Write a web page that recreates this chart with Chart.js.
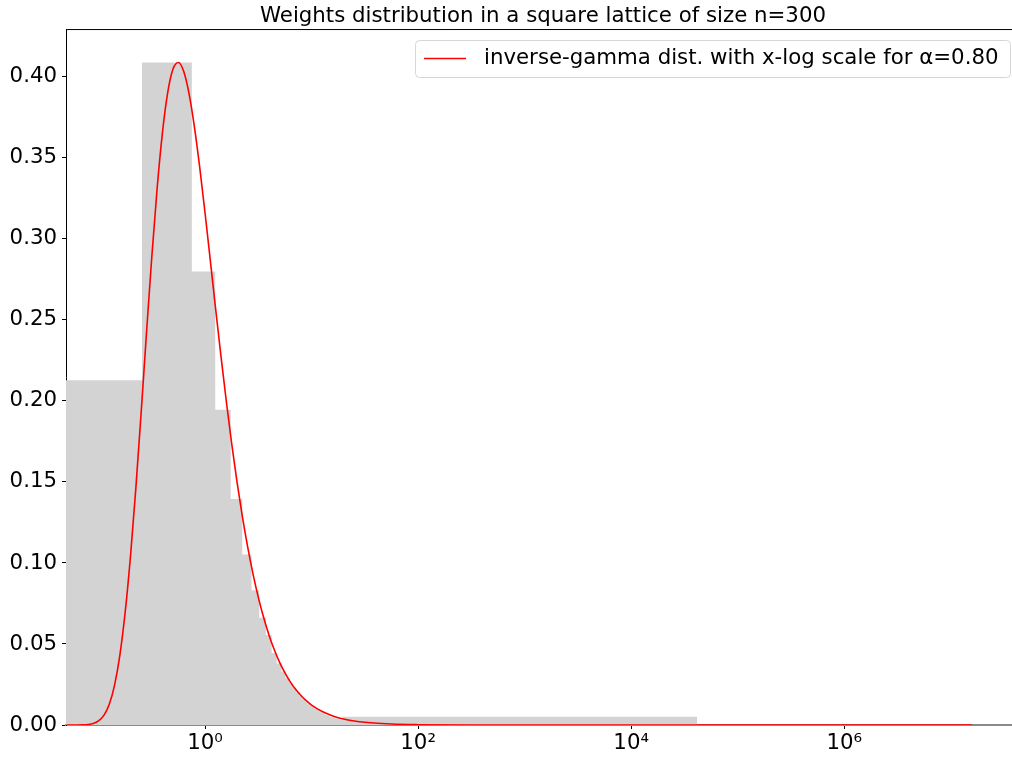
<!DOCTYPE html>
<html>
<head>
<meta charset="utf-8">
<script src="https://cdn.jsdelivr.net/npm/chart.js@4"></script>
<style>
  html, body { margin: 0; padding: 0; background: #fff; overflow: hidden; }
  canvas { display: block; }
</style>
</head>
<body>
<canvas id="chart-area" width="1030" height="758"></canvas>
<script>
// histogram: bin edges (linear values) and heights
var binEdges = [0.03, 0.256, 0.751, 1.246, 1.741, 2.236, 2.731, 3.226, 3.721, 4.216, 4.711,
    5.206, 5.701, 6.196, 6.691, 7.186, 7.681, 8.176, 8.671, 9.166, 9.661,
    10.156, 10.651, 11.146, 11.641, 12.136, 12.631, 13.126, 13.621, 14.116, 14.611,
    15.106, 15.601, 16.096, 16.591, 17.086, 17.581, 18.076, 18.571, 19.066, 19.561, 41700];
var binHeights = [0.2127, 0.4088, 0.2799, 0.1946, 0.1395, 0.1052, 0.0832, 0.0662, 0.0555, 0.0444,
    0.0380, 0.0330, 0.0290, 0.0260, 0.0230, 0.0200, 0.0180, 0.0160, 0.0145, 0.0130,
    0.0120, 0.0110, 0.0100, 0.0092, 0.0085, 0.0078, 0.0072, 0.0067, 0.0062, 0.0058,
    0.0054, 0.0050, 0.0047, 0.0044, 0.0042, 0.0040, 0.0038, 0.0036, 0.0034, 0.0032,
    0.0051];

// fitted curve, sampled along the picture
var curveX = [0.0501, 0.0562, 0.0631, 0.0708, 0.0794, 0.0891, 0.1000, 0.1122, 0.1259, 0.1413,
    0.1585, 0.1778, 0.1995, 0.2239, 0.2512, 0.2818, 0.3162, 0.3548, 0.3981, 0.4467,
    0.5012, 0.5623, 0.6310, 0.7079, 0.7943, 0.8913, 1.000, 1.122, 1.259, 1.413,
    1.585, 1.778, 1.995, 2.239, 2.512, 2.818, 3.162, 3.548, 3.981, 4.467,
    5.012, 5.623, 6.310, 7.079, 7.943, 8.913, 10.00, 12.59, 15.85, 19.95,
    25.12, 31.62, 56.23, 100, 316.2, 1000, 10000, 1.585e7];
var curveY = [0.0000, 0.0000, 0.0000, 0.0001, 0.0003, 0.0009, 0.0025, 0.0059, 0.0127, 0.0245,
    0.0430, 0.0695, 0.1041, 0.1459, 0.1928, 0.2416, 0.2888, 0.3311, 0.3656, 0.3906,
    0.4050, 0.4089, 0.4033, 0.3895, 0.3692, 0.3441, 0.3160, 0.2863, 0.2564, 0.2272,
    0.1995, 0.1737, 0.1500, 0.1288, 0.1099, 0.0933, 0.0788, 0.0663, 0.0556, 0.0464,
    0.0386, 0.0321, 0.0266, 0.0220, 0.0182, 0.0150, 0.0123, 0.0083, 0.0056, 0.0037,
    0.0025, 0.0017, 0.0006, 0.0002, 0.0000, 0.0000, 0.0000, 0.0000];

var yTicks = [0, 0.05, 0.10, 0.15, 0.20, 0.25, 0.30, 0.35, 0.40];
var xTicks = [1, 100, 10000, 1000000];
var xTickLabels = ["10\u2070", "10\u00b2", "10\u2074", "10\u2076"];

var titleText = "Weights distribution in a square lattice of size n=300";
var curveLabel = "inverse-gamma dist. with x-log scale for \u03b1=0.80";

var FONT = "'DejaVu Sans', sans-serif";
var FSIZE = 21.3;

var histPoints = [];
for (var i = 0; i < binHeights.length; i++) {
    histPoints.push({ x: binEdges[i], y: binHeights[i] });
}
histPoints.push({ x: binEdges[binEdges.length - 1], y: 0 });

var curvePoints = [];
for (var i = 0; i < curveX.length; i++) {
    curvePoints.push({ x: curveX[i], y: curveY[i] });
}

// top and right spines + the legend box inside the axes
var framePlugin = {
    id: "frame",
    afterDraw: function (chart) {
        var a = chart.chartArea;
        var ctx = chart.ctx;
        ctx.save();
        ctx.strokeStyle = "#000";
        ctx.lineWidth = 1;
        ctx.beginPath();
        ctx.moveTo(a.left, a.top + 0.5);
        ctx.lineTo(a.right, a.top + 0.5);
        ctx.moveTo(a.right - 0.5, a.top);
        ctx.lineTo(a.right - 0.5, a.bottom);
        ctx.stroke();

        // legend
        var bx = 415.5, by = 40.5, bw = 595, bh = 37, r = 4;
        ctx.fillStyle = "rgba(255,255,255,0.8)";
        ctx.strokeStyle = "#d6d6d6";
        ctx.beginPath();
        ctx.moveTo(bx + r, by);
        ctx.lineTo(bx + bw - r, by);
        ctx.arcTo(bx + bw, by, bx + bw, by + r, r);
        ctx.lineTo(bx + bw, by + bh - r);
        ctx.arcTo(bx + bw, by + bh, bx + bw - r, by + bh, r);
        ctx.lineTo(bx + r, by + bh);
        ctx.arcTo(bx, by + bh, bx, by + bh - r, r);
        ctx.lineTo(bx, by + r);
        ctx.arcTo(bx, by, bx + r, by, r);
        ctx.closePath();
        ctx.fill();
        ctx.stroke();

        var ds = chart.data.datasets[1];
        ctx.strokeStyle = ds.borderColor;
        ctx.lineWidth = 1.5;
        ctx.beginPath();
        ctx.moveTo(424, 58.5);
        ctx.lineTo(466, 58.5);
        ctx.stroke();

        ctx.fillStyle = "#000";
        ctx.font = FSIZE + "px " + FONT;
        ctx.textBaseline = "middle";
        ctx.textAlign = "left";
        ctx.fillText(ds.label, 484, 58);
        ctx.restore();
    }
};

var ctx = document.getElementById("chart-area").getContext("2d");
var myGraph = new Chart(ctx, {
    type: "line",
    data: {
        datasets: [{
            label: "histogram",
            data: histPoints,
            stepped: "before",
            fill: "origin",
            backgroundColor: "#d3d3d3",
            borderWidth: 0,
            borderColor: "rgba(0,0,0,0)",
            pointRadius: 0,
            order: 1
        }, {
            label: curveLabel,
            data: curvePoints,
            borderColor: "#ff0000",
            borderWidth: 1.6,
            pointRadius: 0,
            fill: false,
            cubicInterpolationMode: "monotone",
            order: 0
        }]
    },
    options: {
        responsive: false,
        animation: false,
        devicePixelRatio: 1,
        layout: { padding: { left: 0, right: 10, top: 0, bottom: 0 } },
        plugins: {
            legend: { display: false },
            tooltip: { enabled: false },
            title: {
                display: true,
                text: titleText,
                fullSize: false,
                color: "#000",
                font: { family: FONT, size: FSIZE, weight: "normal", lineHeight: 1.2 },
                padding: { top: 3.5, bottom: 0 }
            }
        },
        scales: {
            x: {
                type: "logarithmic",
                min: 0.0495,
                max: 4.47e7,
                afterBuildTicks: function (scale) {
                    scale.ticks = xTicks.map(function (v) { return { value: v }; });
                },
                afterFit: function (scale) { scale.height = 33; },
                ticks: {
                    autoSkip: false,
                    maxRotation: 0,
                    padding: 2,
                    color: "#000",
                    font: { family: FONT, size: FSIZE },
                    callback: function (value) {
                        var k = xTicks.indexOf(value);
                        return k >= 0 ? xTickLabels[k] : "";
                    }
                },
                grid: { drawOnChartArea: false, drawTicks: true, tickLength: 4, color: "#000" },
                border: { color: "#8a8a8a", width: 2 }
            },
            y: {
                type: "linear",
                min: 0,
                max: 0.4295,
                afterBuildTicks: function (scale) {
                    scale.ticks = yTicks.map(function (v) { return { value: v }; });
                },
                afterFit: function (scale) { scale.width = 66; },
                ticks: {
                    padding: 5,
                    color: "#000",
                    font: { family: FONT, size: FSIZE },
                    callback: function (value) { return value.toFixed(2); }
                },
                grid: { drawOnChartArea: false, drawTicks: true, tickLength: 4, color: "#000" },
                border: { color: "#000", width: 1 }
            }
        }
    },
    plugins: [framePlugin]
});
</script>
</body>
</html>
